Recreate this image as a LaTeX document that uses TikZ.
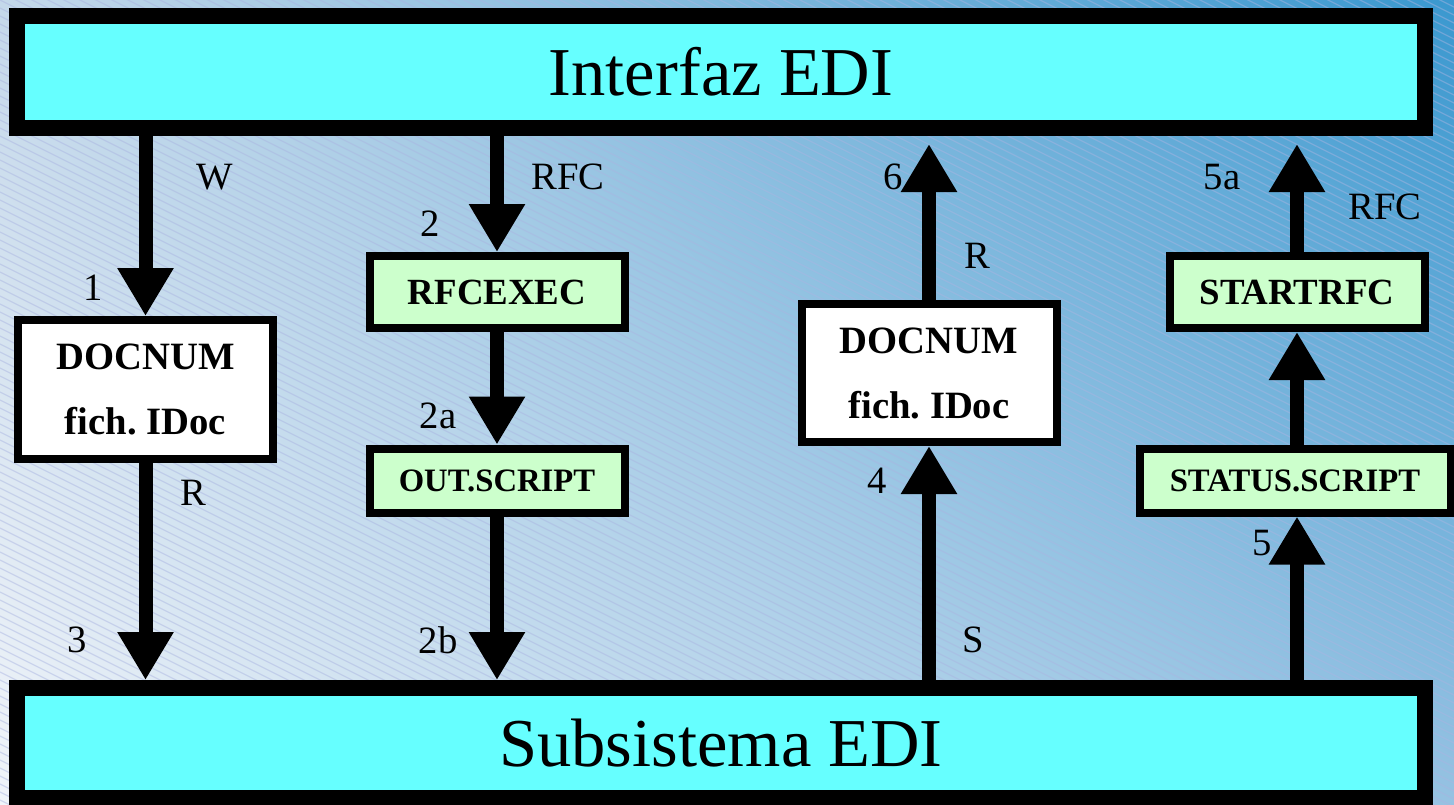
\documentclass[tikz,border=0pt]{standalone}
\usepackage{fontspec}
\setmainfont{Liberation Serif}
\usetikzlibrary{arrows.meta,shadings}
\definecolor{cyanfill}{RGB}{102,255,255}
\definecolor{greenfill}{RGB}{204,255,204}
\definecolor{bgul}{RGB}{196,216,234}
\definecolor{bgur}{RGB}{58,152,207}
\definecolor{bgll}{RGB}{240,244,249}
\definecolor{bglr}{RGB}{150,194,226}
\definecolor{hatchcol}{RGB}{170,180,225}
\begin{document}
\begin{tikzpicture}[
    bar/.style={draw, line width=0.16cm, fill=cyanfill, minimum width=14.08cm,
        minimum height=1.12cm, inner sep=0pt, font=\fontsize{19.5}{22}\selectfont},
    doc/.style={draw, line width=0.08cm, fill=white, minimum width=2.55cm,
        minimum height=1.39cm, inner sep=0pt, align=center,
        font=\bfseries\fontsize{11}{18.5}\selectfont},
    prog/.style={draw, line width=0.08cm, fill=greenfill, minimum width=2.55cm,
        minimum height=0.72cm, inner sep=0pt, font=\bfseries\fontsize{10.5}{12}\selectfont},
    script/.style={prog, minimum height=0.64cm, font=\bfseries\fontsize{9.3}{11}\selectfont},
    flow/.style={line width=0.14cm, -{Triangle[length=0.48cm,width=0.53cm]}},
    lbl/.style={inner sep=0pt, font=\fontsize{11}{13}\selectfont}
]
\useasboundingbox (0,0) rectangle (14.54,-8.04);
\shade[upper left=bgul, upper right=bgur, lower left=bgll, lower right=bglr]
    (0,0) rectangle (14.54,-8.04);
\begin{scope}
    \clip (0,0) rectangle (14.54,-8.04);
    \foreach \k in {-92,...,101}
        \draw[hatchcol, opacity=0.45, line width=0.35pt] (0,-\k*0.08) -- ++(14.54,-7.27);
\end{scope}

\node[bar] (edi) at (7.21,-0.72) {Interfaz EDI};
\node[bar, minimum height=1.10cm] (sub) at (7.21,-7.43) {Subsistema EDI};

\node[doc] (docA) at (1.455,-3.895) {DOCNUM\\fich.\ IDoc};
\node[prog] (rfcexec) at (4.97,-2.92) {RFCEXEC};
\node[script] (outscr) at (4.97,-4.805) {OUT.SCRIPT};
\node[doc, minimum height=1.38cm] (docB) at (9.29,-3.73) {DOCNUM\\fich.\ IDoc};
\node[prog] (startrfc) at (12.97,-2.92) {STARTRFC};
\node[script, minimum width=3.11cm] (statscr) at (12.95,-4.805) {STATUS.SCRIPT};

\draw[flow] (edi.south -| docA.north) -- (docA.north);
\draw[flow] (docA.south) -- (docA.south |- sub.north);
\draw[flow] (edi.south -| rfcexec.north) -- (rfcexec.north);
\draw[flow] (rfcexec.south) -- (outscr.north);
\draw[flow] (outscr.south) -- (outscr.south |- sub.north);
\draw[flow] (sub.north -| docB.south) -- (docB.south);
\draw[flow] (docB.north) -- ([yshift=-0.08cm]docB.north |- edi.south);
\draw[flow] (sub.north -| startrfc.south) -- (startrfc.south |- statscr.south);
\draw[flow] (startrfc.south |- statscr.north) -- (startrfc.south);
\draw[flow] (startrfc.north) -- ([yshift=-0.08cm]startrfc.north |- edi.south);

\node[lbl] (lW) at (2.15,-1.77) {W};
\node[lbl] (l1) at (0.93,-2.88) {1};
\node[lbl] (lRa) at (1.93,-4.93) {R};
\node[lbl] (l3) at (0.77,-6.40) {3};
\node[lbl] (lRFCa) at (5.68,-1.77) {RFC};
\node[lbl] (l2) at (4.30,-2.24) {2};
\node[lbl] (l2a) at (4.38,-4.16) {2a};
\node[lbl] (l2b) at (4.38,-6.40) {2b};
\node[lbl] (l6) at (8.93,-1.77) {6};
\node[lbl] (lRb) at (9.77,-2.56) {R};
\node[lbl] (l4) at (8.77,-4.81) {4};
\node[lbl] (lS) at (9.73,-6.40) {S};
\node[lbl] (l5a) at (12.22,-1.77) {5a};
\node[lbl] (lRFCb) at (13.85,-2.07) {RFC};
\node[lbl] (l5) at (12.62,-5.43) {5};
\end{tikzpicture}
\end{document}
